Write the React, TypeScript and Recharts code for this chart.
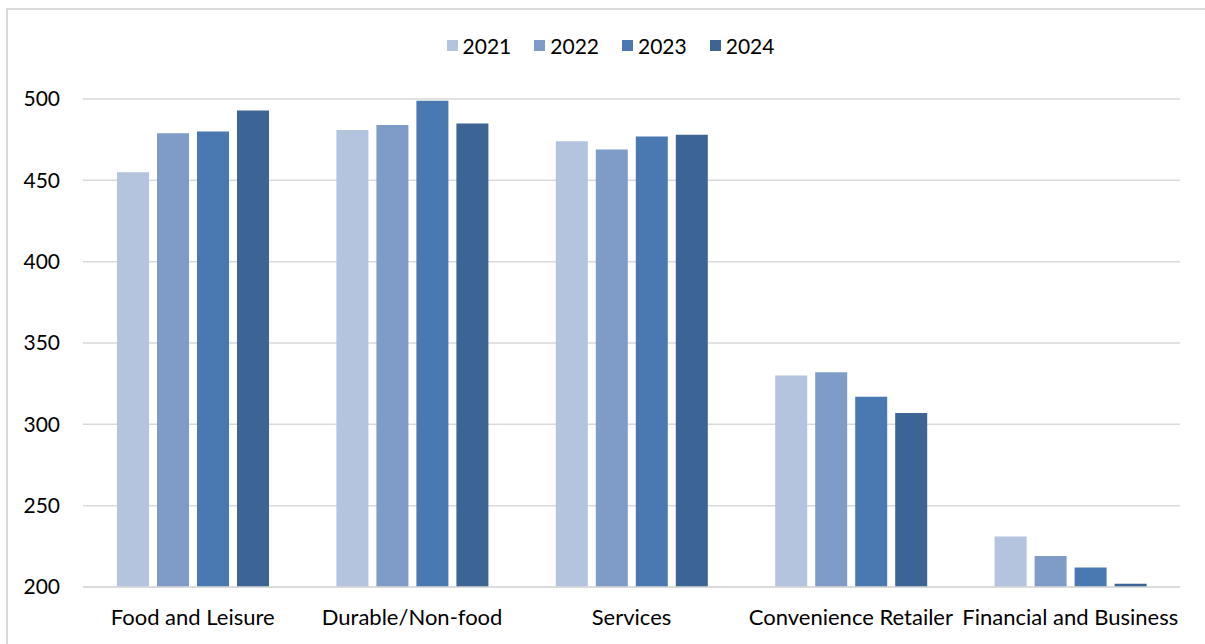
import { BarChart, Bar, XAxis, YAxis, CartesianGrid, Legend } from "recharts";

const categories = [
  "Food and Leisure",
  "Durable/Non-food",
  "Services",
  "Convenience Retailer",
  "Financial and Business",
];
const years = ["2021", "2022", "2023", "2024"];
const values2021 = [455, 481, 474, 330, 231];
const values2022 = [479, 484, 469, 332, 219];
const values2023 = [480, 499, 477, 317, 212];
const values2024 = [493, 485, 478, 307, 202];
const yTicks = [200, 250, 300, 350, 400, 450, 500];
const colors = ["#B4C3DE", "#7F9CC8", "#4A79B1", "#3C6495"];

const series = [values2021, values2022, values2023, values2024];
const data = categories.map((name, i) => {
  const row: Record<string, string | number> = { name };
  years.forEach((y, j) => {
    row[y] = series[j][i];
  });
  return row;
});

const FONT = "Lato, 'Open Sans', sans-serif";

function LegendBox(props: any) {
  const items = props.payload || [];
  return (
    <div
      style={{
        display: "flex",
        justifyContent: "center",
        gap: 23,
        paddingLeft: 18,
        fontFamily: FONT,
      }}
    >
      {items.map((it: any) => (
        <div key={it.value} style={{ display: "flex", alignItems: "center" }}>
          <span
            style={{
              width: 11,
              height: 11,
              background: it.color,
              display: "inline-block",
              marginRight: 5,
            }}
          />
          <span style={{ fontSize: 21, color: "#000" }}>{it.value}</span>
        </div>
      ))}
    </div>
  );
}

export default function App() {
  return (
    <div
      style={{
        position: "fixed",
        left: 0,
        top: 0,
        width: 1205,
        height: 644,
        overflow: "hidden",
        background: "#fff",
      }}
    >
      {/* outer frame, right/bottom edges fall off the page */}
      <div
        style={{
          position: "absolute",
          left: 6,
          top: 8,
          width: 1220,
          height: 660,
          border: "2px solid #D9D9D9",
        }}
      />
      <div style={{ position: "absolute", left: 0, top: 0 }}>
        <BarChart
          width={1205}
          height={644}
          data={data}
          margin={{ top: 60, right: 25, left: 23, bottom: 27 }}
          barGap={8}
          barCategoryGap="15.5%"
        >
          <CartesianGrid vertical={false} stroke="#D9D9D9" strokeWidth={1.5} />
          <XAxis
            dataKey="name"
            tickLine={false}
            axisLine={{ stroke: "#D9D9D9", strokeWidth: 1.5 }}
            tick={{ fill: "#000", fontSize: 22, fontFamily: FONT }}
            tickMargin={16}
            height={30}
            interval={0}
          />
          <YAxis
            domain={[200, 500]}
            ticks={yTicks}
            axisLine={false}
            tickLine={false}
            tickSize={0}
            tickMargin={23}
            width={60}
            tick={{ fill: "#000", fontSize: 21, fontFamily: FONT }}
          />
          <Legend verticalAlign="top" height={39} content={<LegendBox />} wrapperStyle={{ top: 33 }} />
          {years.map((y, j) => (
            <Bar key={y} dataKey={y} fill={colors[j]} isAnimationActive={false} />
          ))}
        </BarChart>
      </div>
    </div>
  );
}
